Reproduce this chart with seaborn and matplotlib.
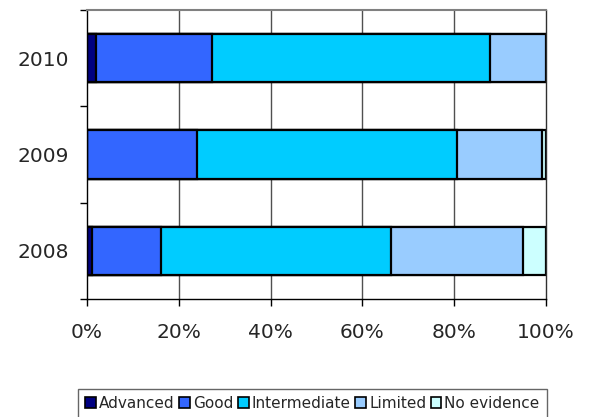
import numpy as np
import pandas as pd
import matplotlib
matplotlib.use("Agg")
import matplotlib.pyplot as plt
from matplotlib.patches import Patch
from matplotlib.ticker import FixedLocator
import seaborn as sns

years = ["2010", "2009", "2008"]
categories = ["Advanced", "Good", "Intermediate", "Limited", "No evidence"]
advanced = [2.0, 0.0, 1.0]
good = [25.3, 24.0, 15.2]
intermediate = [60.5, 56.7, 50.1]
limited = [12.2, 18.4, 28.6]
no_evidence = [0.0, 0.9, 5.1]
colors = ["#000080", "#3366FF", "#00CCFF", "#99CCFF", "#CCFFFF"]
xtick_labels = ["0%", "20%", "40%", "60%", "80%", "100%"]

sns.set_style("white")
plt.rcParams["font.family"] = ["DejaVu Sans"]

series = [advanced, good, intermediate, limited, no_evidence]
cum = np.cumsum(np.array(series), axis=0)

fig = plt.figure(figsize=(5.89, 4.17), dpi=100)
ax = fig.add_axes([87 / 589, 1 - 299 / 417, (546 - 87) / 589, (299 - 10) / 417])

# vertical gridlines
for xv in [20, 40, 60, 80]:
    ax.axvline(xv, color="#505050", lw=1.0, zorder=0)

for i in range(len(categories) - 1, -1, -1):
    df = pd.DataFrame({"year": years, "value": cum[i]})
    sns.barplot(data=df, x="value", y="year", order=years, orient="h",
                color=colors[i], edgecolor="black", linewidth=1.6,
                width=0.5, saturation=1, ax=ax, zorder=2)

ax.set_xlim(0, 100)
ax.set_ylim(2.5, -0.5)
ax.set_xlabel("")
ax.set_ylabel("")
ax.xaxis.set_major_locator(FixedLocator([0, 20, 40, 60, 80, 100]))
ax.set_xticklabels(xtick_labels)
ax.yaxis.set_minor_locator(FixedLocator([-0.5, 0.5, 1.5, 2.5]))
ax.tick_params(axis="x", which="major", direction="out", length=5, width=1,
               color="black", labelsize=14.5, pad=12, bottom=True)
ax.tick_params(axis="y", which="major", length=0, labelsize=14.5, pad=13, left=True)
ax.tick_params(axis="y", which="minor", direction="out", length=5, width=1,
               color="black", left=True)

for s in ["left", "bottom"]:
    ax.spines[s].set_color("black")
    ax.spines[s].set_linewidth(1.0)
ax.spines["top"].set_color("#808080")
ax.spines["top"].set_linewidth(1.5)
ax.spines["right"].set_color("#303030")
ax.spines["right"].set_linewidth(1.0)
for s in ax.spines.values():
    s.set_visible(True)

handles = [Patch(facecolor=c, edgecolor="black", linewidth=1.2, label=l)
           for c, l in zip(colors, categories)]
leg = fig.legend(handles=handles, loc="upper center", ncol=5,
                 bbox_to_anchor=(312.5 / 589, 1 - 389 / 417),
                 fontsize=11, frameon=True, fancybox=False,
                 handlelength=0.7, handleheight=0.7, handletextpad=0.2,
                 columnspacing=0.3, borderpad=0.45, borderaxespad=0)
leg.get_frame().set_edgecolor("#404040")
leg.get_frame().set_linewidth(1.0)

fig.savefig("out.png", dpi=100)
